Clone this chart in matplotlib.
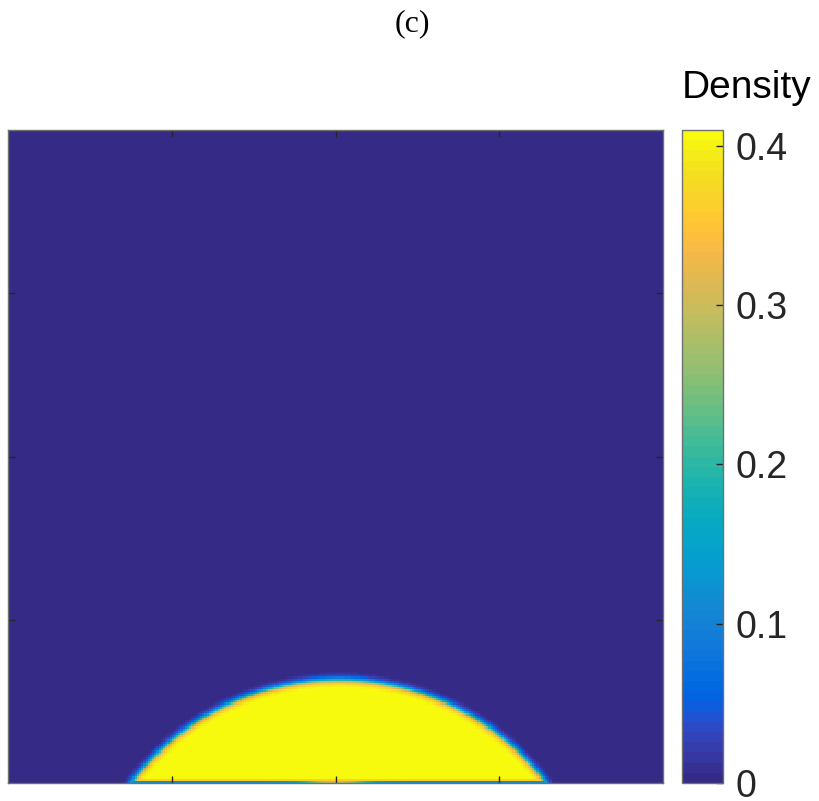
import numpy as np
import matplotlib
matplotlib.use("Agg")
import matplotlib.pyplot as plt
from matplotlib.colors import ListedColormap

# ---- data ----
parula_rgb = [
    [0.2081, 0.1663, 0.5292], [0.2116, 0.1898, 0.5777], [0.2123, 0.2138, 0.6270],
    [0.2081, 0.2386, 0.6771], [0.1959, 0.2645, 0.7279], [0.1707, 0.2919, 0.7792],
    [0.1253, 0.3242, 0.8303], [0.0591, 0.3598, 0.8683], [0.0117, 0.3875, 0.8820],
    [0.0060, 0.4086, 0.8828], [0.0165, 0.4266, 0.8786], [0.0329, 0.4430, 0.8720],
    [0.0498, 0.4586, 0.8641], [0.0629, 0.4737, 0.8554], [0.0723, 0.4887, 0.8467],
    [0.0779, 0.5040, 0.8384], [0.0793, 0.5200, 0.8312], [0.0749, 0.5375, 0.8263],
    [0.0641, 0.5570, 0.8240], [0.0488, 0.5772, 0.8228], [0.0343, 0.5966, 0.8199],
    [0.0265, 0.6137, 0.8135], [0.0239, 0.6287, 0.8038], [0.0231, 0.6418, 0.7913],
    [0.0228, 0.6535, 0.7768], [0.0267, 0.6642, 0.7607], [0.0384, 0.6743, 0.7436],
    [0.0590, 0.6838, 0.7254], [0.0843, 0.6928, 0.7062], [0.1133, 0.7015, 0.6859],
    [0.1453, 0.7098, 0.6646], [0.1801, 0.7177, 0.6424], [0.2178, 0.7250, 0.6193],
    [0.2586, 0.7317, 0.5954], [0.3022, 0.7376, 0.5712], [0.3482, 0.7424, 0.5473],
    [0.3953, 0.7459, 0.5244], [0.4420, 0.7481, 0.5033], [0.4871, 0.7491, 0.4840],
    [0.5300, 0.7491, 0.4661], [0.5709, 0.7485, 0.4494], [0.6099, 0.7473, 0.4337],
    [0.6473, 0.7456, 0.4188], [0.6834, 0.7435, 0.4044], [0.7184, 0.7411, 0.3905],
    [0.7525, 0.7384, 0.3768], [0.7858, 0.7356, 0.3633], [0.8185, 0.7327, 0.3498],
    [0.8507, 0.7299, 0.3360], [0.8824, 0.7274, 0.3217], [0.9139, 0.7258, 0.3063],
    [0.9450, 0.7261, 0.2886], [0.9739, 0.7314, 0.2666], [0.9938, 0.7455, 0.2403],
    [0.9990, 0.7653, 0.2164], [0.9955, 0.7861, 0.1967], [0.9880, 0.8066, 0.1794],
    [0.9789, 0.8271, 0.1633], [0.9697, 0.8481, 0.1475], [0.9626, 0.8705, 0.1309],
    [0.9589, 0.8949, 0.1132], [0.9598, 0.9218, 0.0948], [0.9661, 0.9514, 0.0755],
    [0.9763, 0.9831, 0.0538]]
cbar_ticks = [0, 0.1, 0.2, 0.3, 0.4]
cbar_ticklabels = ["0", "0.1", "0.2", "0.3", "0.4"]
rho_liquid = 0.41
rho_gas = 0.0
vmax = 0.41
drop_center_x = 0.505
drop_half_width = 0.316   # contact half-width (domain units)
drop_height = 0.158       # cap height (domain units)
interface_width = 0.0055
wall_row_value = 0.12
wall_center_value = 0.30
wall_second_row_value = 0.36
n_grid = 300

# ---- build density field ----
cmap = ListedColormap(parula_rgb, name="parula")
x = (np.arange(n_grid) + 0.5) / n_grid
y = (np.arange(n_grid) + 0.5) / n_grid
X, Y = np.meshgrid(x, y)
R = (drop_half_width**2 + drop_height**2) / (2 * drop_height)
yc = drop_height - R
r = np.sqrt((X - drop_center_x)**2 + (Y - yc)**2)
rho = rho_gas + (rho_liquid - rho_gas) * 0.5 * (1 - np.tanh((r - R) / interface_width))
inside = rho[0, :] > 0.2
bump = wall_row_value + (wall_center_value - wall_row_value) * np.exp(-((x - 0.5) / 0.05)**2)
rho[0, inside] = bump[inside]
rho[1, inside] = np.minimum(rho[1, inside], wall_second_row_value)

fig = plt.figure(figsize=(8.19, 8.01), dpi=100)
W, H = 819, 801
ax = fig.add_axes([8 / W, 1 - 783 / H, 655 / W, 653 / H])
im = ax.imshow(rho, origin="lower", extent=[0, 1, 0, 1], cmap=cmap,
               vmin=0, vmax=vmax, interpolation="nearest", aspect="auto")
ax.set_xticks([0.25, 0.5, 0.75])
ax.set_yticks([0.25, 0.5, 0.75])
ax.set_xticklabels([])
ax.set_yticklabels([])
ax.tick_params(direction="in", length=5, width=1, color="#262626",
               top=True, right=True)
for s in ax.spines.values():
    s.set_color("#707070")
    s.set_linewidth(1)

cax = fig.add_axes([682 / W, 1 - 783 / H, 41 / W, 653 / H])
cb = fig.colorbar(im, cax=cax, ticks=cbar_ticks)
cb.ax.set_yticklabels(cbar_ticklabels)
cb.ax.tick_params(direction="in", length=5, width=1, color="#262626",
                  labelsize=27, pad=9, labelcolor="#262626")
for t in cb.ax.get_yticklabels():
    t.set_fontfamily("Liberation Sans")
cb.outline.set_edgecolor("#707070")
cb.outline.set_linewidth(1)

fig.text(682 / W, 1 - 98 / H, "Density", ha="left", va="baseline",
         fontsize=28, family="Liberation Sans", color="black")
fig.text(412 / W, 1 - 24 / H, "(c)", ha="center", va="center",
         fontsize=23, family="Liberation Serif", color="black")

fig.savefig("out.png", dpi=100)
